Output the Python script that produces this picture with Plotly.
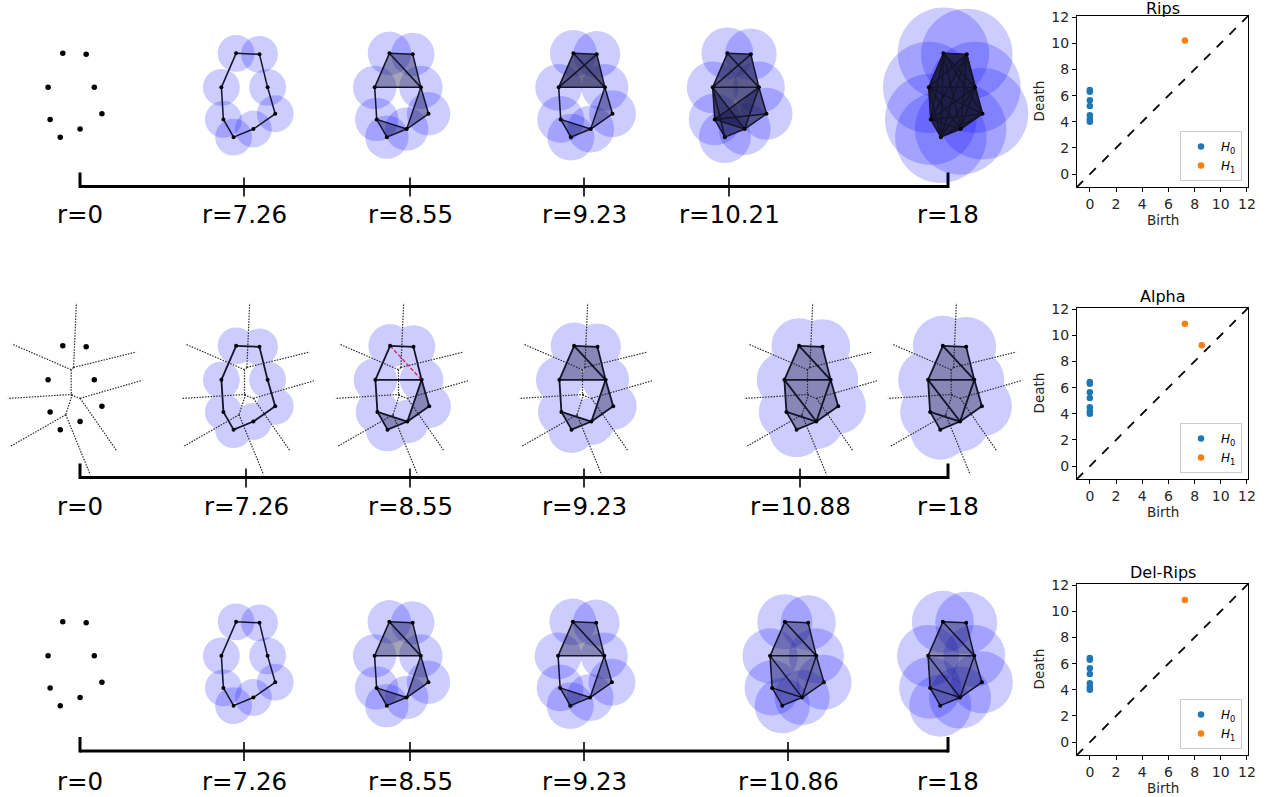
import itertools
import math
import plotly.graph_objects as go

W, H = 1266, 797
S = 5.08  # pixels per data unit in the small filtration drawings

# ---------------- data ----------------
pts_x = [-2.4, 2.2, -5.3, 3.8, -4.9, 5.3, 1.0, -2.9]
pts_y = [8.3, 8.1, 1.6, 1.6, -4.7, -3.6, -6.6, -8.2]

rows = ["Rips", "Alpha", "Del-Rips"]
r_values = {
    "Rips": [0, 7.26, 8.55, 9.23, 10.21, 18],
    "Alpha": [0, 7.26, 8.55, 9.23, 10.88, 18],
    "Del-Rips": [0, 7.26, 8.55, 9.23, 10.86, 18],
}
ball_cap = {"Rips": 9.0, "Alpha": 5.9, "Del-Rips": 6.1}

cycle_edges = [(0, 1), (1, 3), (3, 5), (5, 6), (6, 7), (7, 4), (4, 2), (2, 0)]
extra_855 = [(0, 3), (2, 3), (3, 6), (4, 6)]
all_pairs = list(itertools.combinations(range(8), 2))

rips_edges = [
    [],
    cycle_edges,
    cycle_edges + extra_855,
    cycle_edges + extra_855 + [(1, 2)],
    cycle_edges + extra_855 + [(1, 2), (2, 6), (3, 4), (4, 5), (2, 7)],
    all_pairs,
]

delaunay_tris = [(0, 1, 3), (0, 2, 3), (2, 3, 6), (2, 4, 6), (4, 6, 7), (3, 5, 6)]
partial_tris = [(0, 1, 3), (0, 2, 3), (3, 5, 6), (4, 6, 7)]

alpha_edges = [
    [],
    cycle_edges,
    cycle_edges + [(2, 3), (3, 6), (4, 6)],
    cycle_edges + extra_855,
    cycle_edges + extra_855 + [(2, 6)],
    cycle_edges + extra_855 + [(2, 6)],
]
alpha_dashed = [[], [], [(0, 3)], [], [], []]
alpha_tris = [[], [], [(3, 5, 6), (4, 6, 7)], partial_tris, delaunay_tris, delaunay_tris]

delrips_edges = [
    [],
    cycle_edges,
    cycle_edges + extra_855,
    cycle_edges + extra_855,
    cycle_edges + extra_855 + [(2, 6)],
    cycle_edges + extra_855 + [(2, 6)],
]
delrips_tris = [[], [], partial_tris, partial_tris, delaunay_tris, delaunay_tris]

h0_deaths = [4.0, 4.2, 4.5, 5.2, 5.65, 6.3, 6.43]
h1_points = {
    "Rips": ([7.26], [10.21]),
    "Alpha": ([7.26, 8.55], [10.88, 9.23]),
    "Del-Rips": ([7.26], [10.86]),
}
pd_ticks = [0, 2, 4, 6, 8, 10, 12]
voronoi_ray_len = 12.7

# ---------------- layout positions (pixels) ----------------
panel_cx = {
    "Rips": [75, 248.3, 401.6, 585.6, 739.6, 955.6],
    "Alpha": [75, 248.3, 402.3, 586.3, 811.3, 955],
    "Del-Rips": [75, 248.3, 401.5, 585, 797, 955],
}
panel_cy = {"Rips": 95.5, "Alpha": 388, "Del-Rips": 664}
tick_x = {
    "Rips": [80, 244, 410, 584, 729, 948],
    "Alpha": [80, 246, 410, 584, 800, 948],
    "Del-Rips": [80, 244, 410, 584, 788, 948],
}
line_y = {"Rips": 186.5, "Alpha": 477.5, "Del-Rips": 751}
label_y = {"Rips": 214, "Alpha": 506, "Del-Rips": 781}
pd_top = {"Rips": 16, "Alpha": 308, "Del-Rips": 584}
PD_L, PD_SIZE = 1077, 171
HW, HH = 74, 93

BLUE = "#1f77b4"
ORANGE = "#ff7f0e"
FONT = "DejaVu Sans"

fig = go.Figure()
layout = dict(
    width=W, height=H, margin=dict(l=0, r=0, t=0, b=0, pad=0, autoexpand=False),
    paper_bgcolor="white", plot_bgcolor="rgba(0,0,0,0)",
    font=dict(family=FONT, color="black"), showlegend=True,
)
shapes, annotations = [], []
axis_counter = [0]


def add_axes(xdom, ydom, xr, yr, visible=False):
    axis_counter[0] += 1
    n = axis_counter[0]
    sx = "" if n == 1 else str(n)
    base = dict(showgrid=False, zeroline=False, fixedrange=True, visible=visible, automargin=False)
    layout["xaxis" + sx] = dict(base, domain=xdom, range=xr, anchor="y" + sx)
    layout["yaxis" + sx] = dict(base, domain=ydom, range=yr, anchor="x" + sx)
    return "x" + sx, "y" + sx


# overlay axes in pixel units for the timelines
OX, OY = add_axes([0, 1], [0, 1], [0, W], [H, 0])

P = list(zip(pts_x, pts_y))


def circumcenter(a, b, c):
    ax, ay = a
    bx, by = b
    cx, cy = c
    d = 2 * (ax * (by - cy) + bx * (cy - ay) + cx * (ay - by))
    ux = ((ax * ax + ay * ay) * (by - cy) + (bx * bx + by * by) * (cy - ay) + (cx * cx + cy * cy) * (ay - by)) / d
    uy = ((ax * ax + ay * ay) * (cx - bx) + (bx * bx + by * by) * (ax - cx) + (cx * cx + cy * cy) * (bx - ax)) / d
    return ux, uy


def voronoi_segments():
    centers = [circumcenter(P[a], P[b], P[c]) for a, b, c in delaunay_tris]
    emap = {}
    for ti, t in enumerate(delaunay_tris):
        for e in itertools.combinations(t, 2):
            emap.setdefault(tuple(sorted(e)), []).append(ti)
    mx = sum(pts_x) / len(pts_x)
    my = sum(pts_y) / len(pts_y)
    xs, ys = [], []
    for (i, j), tl in emap.items():
        if len(tl) == 2:
            c0, c1 = centers[tl[0]], centers[tl[1]]
            xs += [c0[0], c1[0], None]
            ys += [c0[1], c1[1], None]
        else:
            c = centers[tl[0]]
            tx, ty = P[j][0] - P[i][0], P[j][1] - P[i][1]
            nrm = math.hypot(tx, ty)
            nx, ny = -ty / nrm, tx / nrm
            midx, midy = (P[i][0] + P[j][0]) / 2, (P[i][1] + P[j][1]) / 2
            sg = 1 if (midx - mx) * nx + (midy - my) * ny > 0 else -1
            xs += [c[0], c[0] + sg * nx * voronoi_ray_len, None]
            ys += [c[1], c[1] + sg * ny * voronoi_ray_len, None]
    return xs, ys


def seg_coords(edges):
    xs, ys = [], []
    for a, b in edges:
        xs += [pts_x[a], pts_x[b], None]
        ys += [pts_y[a], pts_y[b], None]
    return xs, ys


def cliques(edges):
    es = set(tuple(sorted(e)) for e in edges)
    out = []
    for t in itertools.combinations(range(8), 3):
        if all(tuple(sorted(e)) in es for e in itertools.combinations(t, 2)):
            out.append(t)
    return out


vor_x, vor_y = voronoi_segments()

for row in rows:
    cy = panel_cy[row]
    for k, r in enumerate(r_values[row]):
        cx = panel_cx[row][k]
        xa, ya = add_axes(
            [(cx - HW) / W, (cx + HW) / W],
            [1 - (cy + HH) / H, 1 - (cy - HH) / H],
            [-HW / S, HW / S], [-HH / S, HH / S],
        )
        rad = min(r / 2.0, ball_cap[row])
        if rad > 0:
            col = "#ccccff" if row == "Alpha" else "rgba(0,0,255,0.2)"
            for x, y in P:
                shapes.append(dict(type="circle", xref=xa, yref=ya, x0=x - rad, x1=x + rad,
                                   y0=y - rad, y1=y + rad, fillcolor=col, line=dict(width=0),
                                   layer="below"))
        if row == "Alpha":
            fig.add_trace(go.Scatter(x=vor_x, y=vor_y, xaxis=xa, yaxis=ya, mode="lines",
                                     line=dict(color="#2a2a2a", width=1.2, dash="1.5px,1.3px"),
                                     showlegend=False, hoverinfo="skip"))
        if row == "Rips":
            edges = rips_edges[k]
            tris = cliques(edges)
            dashed = []
        elif row == "Alpha":
            edges, tris, dashed = alpha_edges[k], alpha_tris[k], alpha_dashed[k]
        else:
            edges, tris, dashed = delrips_edges[k], delrips_tris[k], []
        for t in tris:
            fig.add_trace(go.Scatter(x=[pts_x[i] for i in t] + [pts_x[t[0]]],
                                     y=[pts_y[i] for i in t] + [pts_y[t[0]]],
                                     xaxis=xa, yaxis=ya, mode="lines", fill="toself",
                                     fillcolor="rgba(30,30,75,0.4)", line=dict(width=0),
                                     showlegend=False, hoverinfo="skip"))
        if edges:
            ex, ey = seg_coords(edges)
            fig.add_trace(go.Scatter(x=ex, y=ey, xaxis=xa, yaxis=ya, mode="lines",
                                     line=dict(color="#14142a", width=1.8 if row == "Alpha" else 1.5),
                                     showlegend=False, hoverinfo="skip"))
        if dashed:
            dx, dy = seg_coords(dashed)
            fig.add_trace(go.Scatter(x=dx, y=dy, xaxis=xa, yaxis=ya, mode="lines",
                                     line=dict(color="#d62a5e", width=1.4, dash="4px,2px"),
                                     showlegend=False, hoverinfo="skip"))
        fig.add_trace(go.Scatter(x=pts_x, y=pts_y, xaxis=xa, yaxis=ya, mode="markers",
                                 marker=dict(color="black", size=5.5 if k == 0 else 4),
                                 showlegend=False, hoverinfo="skip"))

    # timeline
    ly = line_y[row]
    txs = tick_x[row]
    fig.add_trace(go.Scatter(x=[txs[0], txs[-1]], y=[ly, ly], xaxis=OX, yaxis=OY, mode="lines",
                             line=dict(color="black", width=3), showlegend=False, hoverinfo="skip"))
    mx_, my_ = [], []
    for tx in txs[1:-1]:
        mx_ += [tx, tx, None]
        my_ += [ly - 9, ly + 10, None]
    fig.add_trace(go.Scatter(x=mx_, y=my_, xaxis=OX, yaxis=OY, mode="lines",
                             line=dict(color="black", width=1.6), showlegend=False, hoverinfo="skip"))
    fig.add_trace(go.Scatter(x=[txs[0], txs[0], None, txs[-1], txs[-1]],
                             y=[ly - 14, ly + 1.5, None, ly - 14, ly + 1.5],
                             xaxis=OX, yaxis=OY, mode="lines",
                             line=dict(color="black", width=3), showlegend=False, hoverinfo="skip"))
    for tx, r in zip(txs, r_values[row]):
        annotations.append(dict(x=tx, y=label_y[row], xref=OX, yref=OY, text="r=%g" % r,
                                showarrow=False, xanchor="center", yanchor="middle",
                                font=dict(size=24.5, family=FONT, color="black")))

# persistence diagrams
for li, row in enumerate(rows):
    top = pd_top[row]
    xa, ya = add_axes([PD_L / W, (PD_L + PD_SIZE) / W],
                      [1 - (top + PD_SIZE) / H, 1 - top / H],
                      [-0.98, 12.08], [-0.98, 12.08], visible=True)
    for ax in (xa, ya):
        key = ("xaxis" if ax[0] == "x" else "yaxis") + ax[1:]
        layout[key].update(showline=True, mirror=True, linecolor="black", linewidth=1,
                           ticks="outside", ticklen=4, tickcolor="black", tickvals=pd_ticks,
                           tickfont=dict(size=14, family=FONT, color="#262626"))
    leg = "legend" if li == 0 else "legend%d" % (li + 1)
    fig.add_trace(go.Scatter(x=[-1, 12.1], y=[-1, 12.1], xaxis=xa, yaxis=ya, mode="lines",
                             line=dict(color="black", width=1.8, dash="dash"),
                             showlegend=False, hoverinfo="skip"))
    fig.add_trace(go.Scatter(x=[0] * len(h0_deaths), y=h0_deaths, xaxis=xa, yaxis=ya,
                             mode="markers", marker=dict(color=BLUE, size=6.5),
                             name="<i>H</i><sub>0</sub>", legend=leg))
    hx, hy = h1_points[row]
    fig.add_trace(go.Scatter(x=hx, y=hy, xaxis=xa, yaxis=ya, mode="markers",
                             marker=dict(color=ORANGE, size=6.5),
                             name="<i>H</i><sub>1</sub>", legend=leg))
    layout[leg] = dict(x=1242 / W, y=1 - (top + 165) / H, xanchor="right", yanchor="bottom",
                       bgcolor="white", bordercolor="#cccccc", borderwidth=1,
                       font=dict(size=12, family=FONT, color="black"),
                       itemclick=False, tracegroupgap=0, itemwidth=30)
    cxp = PD_L + PD_SIZE / 2
    title_y = top - 12 if top > 40 else 8
    annotations.append(dict(x=cxp, y=title_y, xref=OX, yref=OY, text=row, showarrow=False,
                            xanchor="center", yanchor="middle",
                            font=dict(size=16, family=FONT, color="black")))
    annotations.append(dict(x=cxp, y=top + PD_SIZE + 33, xref=OX, yref=OY, text="Birth",
                            showarrow=False, xanchor="center", yanchor="middle",
                            font=dict(size=13.5, family=FONT, color="#262626")))
    annotations.append(dict(x=1038, y=top + PD_SIZE / 2, xref=OX, yref=OY, text="Death",
                            showarrow=False, textangle=-90, xanchor="center", yanchor="middle",
                            font=dict(size=13.5, family=FONT, color="#262626")))

layout["shapes"] = shapes
layout["annotations"] = annotations
fig.update_layout(**layout)
fig.write_html("out.html", config={"displayModeBar": False},
               post_script="document.body.style.margin='0px';")
